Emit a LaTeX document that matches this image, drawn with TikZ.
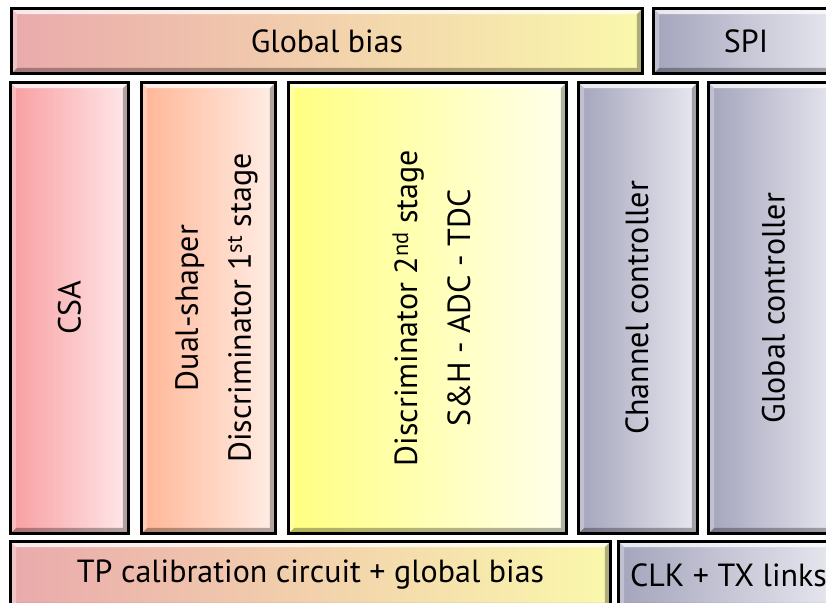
\documentclass[tikz,border=0pt]{standalone}
\usepackage{fontspec}
\setmainfont{PT Sans}
\usetikzlibrary{calc}
\begin{document}
\begin{tikzpicture}[x=1pt,y=-1pt,
  bevel/.style={path picture={
    \coordinate (nw) at ($(path picture bounding box.north west)+(1.7pt,-1.7pt)$);
    \coordinate (ne) at ($(path picture bounding box.north east)+(-1.7pt,-1.7pt)$);
    \coordinate (sw) at ($(path picture bounding box.south west)+(1.7pt,1.7pt)$);
    \coordinate (se) at ($(path picture bounding box.south east)+(-1.7pt,1.7pt)$);
    % raised edges: light on top and left, shadow on right and bottom
    \fill[white,opacity=.75] (nw) -- (ne) -- ($(ne)+(-4pt,-4pt)$) -- ($(nw)+(4pt,-4pt)$) -- cycle;
    \fill[white,opacity=.3] (nw) -- (sw) -- ($(sw)+(4pt,4pt)$) -- ($(nw)+(4pt,-4pt)$) -- cycle;
    \fill[black,opacity=.3] (ne) -- (se) -- ($(se)+(-4pt,4pt)$) -- ($(ne)+(-4pt,-4pt)$) -- cycle;
    \fill[black,opacity=.3] (sw) -- (se) -- ($(se)+(-4pt,4pt)$) -- ($(sw)+(4pt,4pt)$) -- cycle;
  }},
  blk/.style={rectangle, draw=black, line width=3.4pt, inner sep=0pt, bevel,
    font=\fontsize{32}{36}\selectfont},
  warm/.style={left color=warmA, middle color=warmB, right color=warmC},
  cool/.style={left color=coolA, right color=coolB},
  lbl/.style={rotate=90, align=center, font=\fontsize{32}{53}\selectfont},
]
\definecolor{warmA}{RGB}{234,170,172}
\definecolor{warmB}{RGB}{250,214,180}
\definecolor{warmC}{RGB}{250,248,172}
\definecolor{coolA}{RGB}{164,164,188}
\definecolor{coolB}{RGB}{232,232,240}
\definecolor{csaA}{RGB}{248,158,160}
\definecolor{csaB}{RGB}{255,232,234}
\definecolor{dualA}{RGB}{255,182,150}
\definecolor{dualB}{RGB}{255,238,230}
\definecolor{discA}{RGB}{255,255,128}
\definecolor{discB}{RGB}{255,255,236}

\useasboundingbox (0,0) rectangle (826,602);
\fill[white] (0,0) rectangle (826,602);
\clip (0,0) rectangle (826,602);

% top row
\node[blk, warm, minimum width=631pt, minimum height=65pt] (gbias) at (327,41) {Global bias};
\node[blk, cool, minimum width=185pt, minimum height=65pt] (spi) at (746,41) {SPI};

% channel columns
\node[blk, left color=csaA, right color=csaB, minimum width=118pt, minimum height=451pt] (csa) at (69.5,308) {};
\node[blk, left color=dualA, right color=dualB, minimum width=134pt, minimum height=451pt] (dual) at (208.5,308) {};
\node[blk, left color=discA, right color=discB, minimum width=278pt, minimum height=451pt] (disc) at (427.5,308) {};
\node[blk, cool, minimum width=119pt, minimum height=451pt] (chan) at (638,308) {};
\node[blk, cool, minimum width=130pt, minimum height=451pt] (gctl) at (773.5,308) {};

\node[lbl] (csatxt) at (csa) {CSA};
\node[lbl] (dualtxt) at ($(dual)+(8pt,0)$) {Dual-shaper\\Discriminator 1\textsuperscript{st} stage};
\node[lbl] (disctxt) at ($(disc)+(4pt,0)$) {Discriminator 2\textsuperscript{nd} stage\\S\&H - ADC - TDC};
\node[lbl] (chantxt) at ($(chan)+(-1pt,0)$) {Channel controller};
\node[lbl] (gctltxt) at (gctl) {Global controller};

% bottom row
\node[blk, warm, minimum width=600pt, minimum height=67pt] (tp) at (310.5,575) {TP calibration circuit + global bias};
\node[blk, cool, minimum width=220pt, minimum height=67pt] (clk) at (728.5,575) {CLK + TX links};
\end{tikzpicture}
\end{document}
